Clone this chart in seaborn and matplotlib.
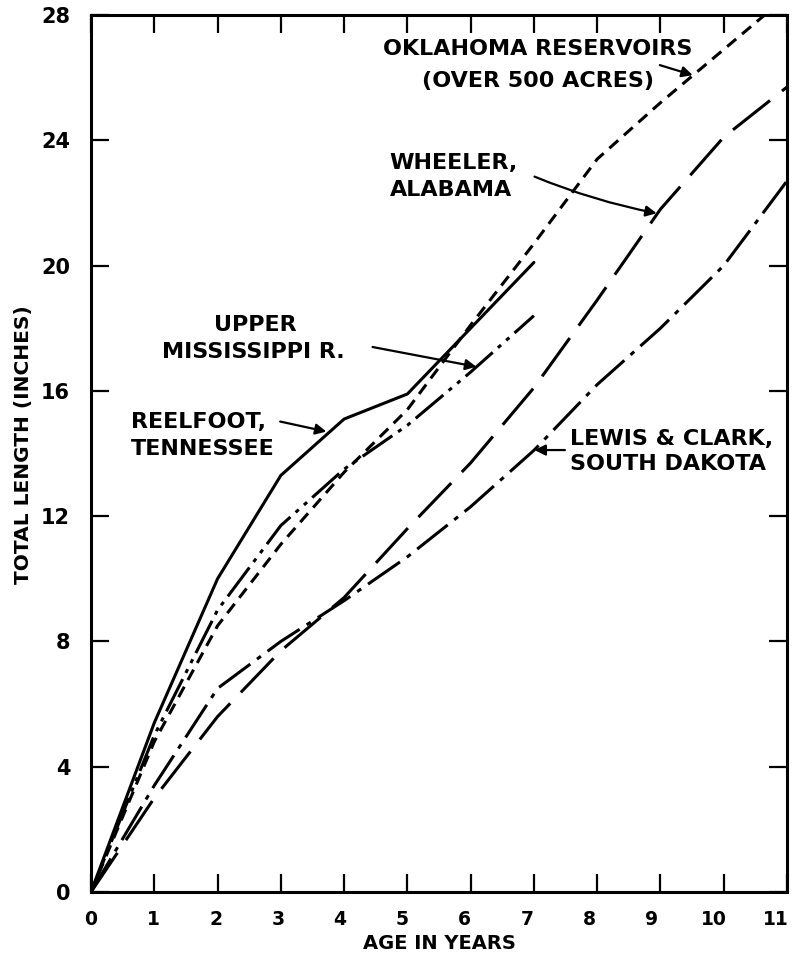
import matplotlib
matplotlib.use("Agg")
import matplotlib.pyplot as plt
import matplotlib.transforms as mtransforms
import seaborn as sns
import pandas as pd

# ---- data ----
ages_full = [0, 1, 2, 3, 4, 5, 6, 7, 8, 9, 10, 11]
ages_short = [0, 1, 2, 3, 4, 5, 6, 7]

reelfoot = [0, 5.4, 10.0, 13.3, 15.1, 15.9, 18.0, 20.1]
upper_miss = [0, 5.0, 9.0, 11.7, 13.5, 14.9, 16.6, 18.4]
oklahoma = [0, 4.8, 8.5, 11.1, 13.4, 15.4, 18.1, 20.7, 23.4, 25.2, 26.9, 28.6]
wheeler = [0, 3.0, 5.6, 7.7, 9.4, 11.6, 13.7, 16.1, 18.9, 21.8, 24.1, 25.7]
lewis_clark = [0, 3.4, 6.5, 8.0, 9.3, 10.7, 12.3, 14.1, 16.2, 18.0, 20.0, 22.7]

x_ticks = list(range(0, 12))
y_ticks = [0, 4, 8, 12, 16, 20, 24, 28]

sns.set_style("ticks")
plt.rcParams["font.family"] = ["DejaVu Sans"]
plt.rcParams["lines.scale_dashes"] = False
plt.rcParams["text.color"] = "black"
plt.rcParams["axes.labelcolor"] = "black"
plt.rcParams["xtick.color"] = "black"
plt.rcParams["ytick.color"] = "black"

fig = plt.figure(figsize=(7.97, 9.57), dpi=100)
ax = fig.add_axes([91 / 797, 1 - 892 / 957, 696 / 797, 877 / 957])

lw = 2.2
series = [
    (ages_short, reelfoot, "-"),
    (ages_short, upper_miss, (0, (26, 5, 3, 5, 3, 5))),
    (ages_full, oklahoma, (0, (8.5, 5.5))),
    (ages_full, wheeler, (0, (34, 11))),
    (ages_full, lewis_clark, (0, (28, 6, 3.5, 6))),
]
for xs, ys, ls in series:
    df = pd.DataFrame({"age": xs, "length": ys})
    sns.lineplot(data=df, x="age", y="length", ax=ax, color="black",
                 linewidth=lw, linestyle=ls, estimator=None, sort=False)

ax.set_xlim(0, 11)
ax.set_ylim(0, 28)
ax.set_xticks(x_ticks)
ax.set_yticks(y_ticks)
ax.set_xticklabels([str(v) for v in x_ticks], fontsize=13.5, fontweight="bold",
                   color="black")
ax.set_yticklabels([str(v) for v in y_ticks], fontsize=15, fontweight="bold",
                   color="black")
ax.tick_params(axis="both", direction="in", length=13, width=1.6,
               top=True, right=True, color="black")
ax.tick_params(axis="x", pad=13)
ax.tick_params(axis="y", pad=15)
# hand-lettered labels sit slightly left of their ticks
for i, lab in enumerate(ax.get_xticklabels()):
    off = mtransforms.ScaledTranslation(-i * 0.72 / 72, 0, fig.dpi_scale_trans)
    lab.set_transform(lab.get_transform() + off)
for sp in ax.spines.values():
    sp.set_visible(True)
    sp.set_linewidth(2.2)
    sp.set_color("black")

ax.set_xlabel("AGE IN YEARS", fontsize=14, fontweight="bold", color="black")
ax.xaxis.set_label_coords(0.501, -0.048)
ax.set_ylabel("TOTAL LENGTH (INCHES)", fontsize=14.5, fontweight="bold",
              color="black")
ax.yaxis.set_label_coords(-0.083, 0.51)

tkw = dict(fontsize=16, fontweight="bold", color="black")
akw = dict(arrowstyle="-|>", color="black", lw=1.6, mutation_scale=16,
           shrinkA=0, shrinkB=0)

# Oklahoma
ax.text(7.06, 26.9, "OKLAHOMA RESERVOIRS", ha="center", va="center", **tkw)
ax.text(7.06, 25.9, "(OVER 500 ACRES)", ha="center", va="center", **tkw)
ax.annotate("", xy=(9.51, 26.08), xytext=(8.99, 26.4), arrowprops=akw)

# Wheeler
ax.text(4.72, 23.28, "WHEELER,", ha="left", va="center", **tkw)
ax.text(4.72, 22.41, "ALABAMA", ha="left", va="center", **tkw)
ax.annotate("", xy=(8.94, 21.67), xytext=(7.01, 22.84),
            arrowprops=dict(akw, connectionstyle="arc3,rad=0.05"))

# Upper Mississippi
ax.text(2.59, 18.1, "UPPER", ha="center", va="center", **tkw)
ax.text(1.13, 17.25, "MISSISSIPPI R.", ha="left", va="center", **tkw)
ax.annotate("", xy=(6.09, 16.77), xytext=(4.45, 17.4), arrowprops=akw)

# Reelfoot
ax.text(0.63, 15.0, "REELFOOT,", ha="left", va="center", **tkw)
ax.text(0.63, 14.14, "TENNESSEE", ha="left", va="center", **tkw)
ax.annotate("", xy=(3.72, 14.7), xytext=(2.99, 15.02), arrowprops=akw)

# Lewis & Clark
ax.text(7.57, 14.46, "LEWIS & CLARK,", ha="left", va="center", **tkw)
ax.text(7.57, 13.68, "SOUTH DAKOTA", ha="left", va="center", **tkw)
ax.annotate("", xy=(7.01, 14.11), xytext=(7.49, 14.11), arrowprops=akw)

fig.savefig("out.png", dpi=100)
